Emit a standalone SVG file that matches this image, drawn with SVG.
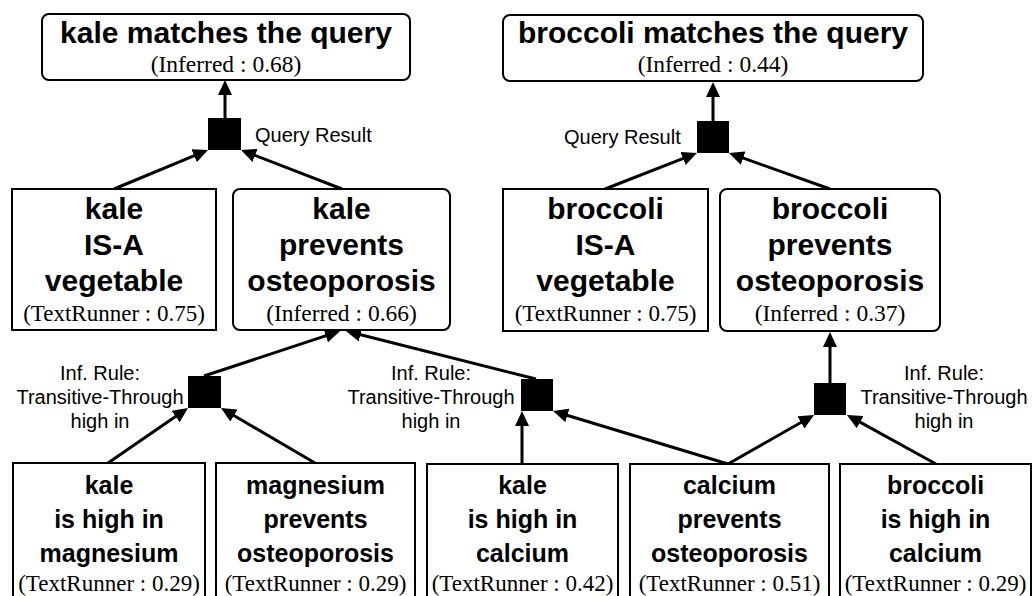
<svg xmlns="http://www.w3.org/2000/svg" width="1033" height="596" viewBox="0 0 1033 596">
<style>
.box{fill:#fff;stroke:#000;stroke-width:2}
.fac{fill:#000}
.t{font-family:"Liberation Sans",Arial,Helvetica,sans-serif;font-weight:bold;font-size:30px;text-anchor:middle;fill:#000}
.tb{font-family:"Liberation Sans",Arial,Helvetica,sans-serif;font-weight:bold;font-size:25px;text-anchor:middle;fill:#000}
.s{font-family:"Liberation Serif","Times New Roman",serif;font-size:23.5px;text-anchor:middle;fill:#000}
.r{font-family:"Liberation Serif","Times New Roman",serif;font-size:23px;text-anchor:middle;fill:#000}
.l{font-family:"Liberation Sans",Arial,Helvetica,sans-serif;font-size:20px;fill:#000}
.lc{font-family:"Liberation Sans",Arial,Helvetica,sans-serif;font-size:20px;fill:#000;text-anchor:middle}
.e{stroke:#000;stroke-width:3;fill:none;marker-end:url(#ah)}
</style>
<defs>
<marker id="ah" markerUnits="userSpaceOnUse" markerWidth="15" markerHeight="14" refX="10" refY="7" orient="auto">
<path d="M0,0 L15,7 L0,14 z" fill="#000"/>
</marker>
</defs>
<rect width="1033" height="596" fill="#fff"/>

<g id="connectors">
<line class="e" x1="225" y1="118" x2="225" y2="85"/>
<line class="e" x1="114" y1="189" x2="203.4" y2="151.9"/>
<line class="e" x1="342" y1="189" x2="245.7" y2="151.8"/>
<line class="e" x1="713" y1="121" x2="713" y2="87"/>
<line class="e" x1="605" y1="189" x2="692.3" y2="154.8"/>
<line class="e" x1="830" y1="189" x2="733.7" y2="154.7"/>
<line class="e" x1="204" y1="376" x2="335.3" y2="332.6"/>
<line class="e" x1="536" y1="379" x2="350.8" y2="332.2"/>
<line class="e" x1="108" y1="463" x2="183.9" y2="410.8"/>
<line class="e" x1="315" y1="463" x2="225.3" y2="410.5"/>
<line class="e" x1="522" y1="464" x2="522" y2="416"/>
<line class="e" x1="728" y1="464" x2="557.8" y2="412.5"/>
<line class="e" x1="728" y1="464" x2="809.7" y2="417.5"/>
<line class="e" x1="936" y1="464" x2="851.4" y2="417.4"/>
<line class="e" x1="830" y1="383" x2="830" y2="337"/>
</g>

<g id="kale_query">
<rect class="box" x="42" y="14" width="368" height="66" rx="7"/>
<text class="t" x="226" y="43">kale matches the query</text>
<text class="s" x="226" y="72">(Inferred : 0.68)</text>
</g>
<g id="broccoli_query">
<rect class="box" x="503" y="15" width="420" height="66" rx="7"/>
<text class="t" x="713" y="43">broccoli matches the query</text>
<text class="s" x="713" y="72">(Inferred : 0.44)</text>
</g>

<g id="qr_kale">
<rect class="fac" x="208" y="118" width="33" height="32"/>
<text class="l" x="255" y="142">Query Result</text>
</g>
<g id="qr_broccoli">
<rect class="fac" x="697" y="121" width="32" height="32"/>
<text class="l" x="564" y="144">Query Result</text>
</g>

<g id="kale_isa">
<rect class="box" x="12" y="189" width="204" height="141"/>
<text class="t" x="114" y="219">kale</text>
<text class="t" x="114" y="255">IS-A</text>
<text class="t" x="114" y="291">vegetable</text>
<text class="r" x="114" y="321">(TextRunner : 0.75)</text>
</g>
<g id="kale_prevents">
<rect class="box" x="233" y="189" width="217" height="141" rx="7"/>
<text class="t" x="341.5" y="219">kale</text>
<text class="t" x="341.5" y="255">prevents</text>
<text class="t" x="341.5" y="291">osteoporosis</text>
<text class="s" x="341.5" y="321">(Inferred : 0.66)</text>
</g>
<g id="broccoli_isa">
<rect class="box" x="503" y="189" width="205" height="142"/>
<text class="t" x="605.5" y="219">broccoli</text>
<text class="t" x="605.5" y="255">IS-A</text>
<text class="t" x="605.5" y="291">vegetable</text>
<text class="r" x="605.5" y="321">(TextRunner : 0.75)</text>
</g>
<g id="broccoli_prevents">
<rect class="box" x="720" y="189" width="220" height="142" rx="7"/>
<text class="t" x="830" y="219">broccoli</text>
<text class="t" x="830" y="255">prevents</text>
<text class="t" x="830" y="291">osteoporosis</text>
<text class="s" x="830" y="321">(Inferred : 0.37)</text>
</g>

<g id="rule_left">
<rect class="fac" x="188" y="376" width="33" height="32"/>
<text class="lc" x="100" y="380">Inf. Rule:</text>
<text class="lc" x="100" y="404">Transitive-Through</text>
<text class="lc" x="100" y="428">high in</text>
</g>
<g id="rule_mid">
<rect class="fac" x="521" y="379" width="32" height="32"/>
<text class="lc" x="431" y="380">Inf. Rule:</text>
<text class="lc" x="431" y="404">Transitive-Through</text>
<text class="lc" x="431" y="428">high in</text>
</g>
<g id="rule_right">
<rect class="fac" x="814" y="383" width="32" height="32"/>
<text class="lc" x="944" y="380">Inf. Rule:</text>
<text class="lc" x="944" y="404">Transitive-Through</text>
<text class="lc" x="944" y="428">high in</text>
</g>

<g id="kale_mg">
<rect class="box" x="13" y="463" width="192" height="140"/>
<text class="tb" x="109" y="494">kale</text>
<text class="tb" x="109" y="528">is high in</text>
<text class="tb" x="109" y="562">magnesium</text>
<text class="r" x="109" y="591">(TextRunner : 0.29)</text>
</g>
<g id="mg_prevents">
<rect class="box" x="216" y="463" width="199" height="140"/>
<text class="tb" x="315.5" y="494">magnesium</text>
<text class="tb" x="315.5" y="528">prevents</text>
<text class="tb" x="315.5" y="562">osteoporosis</text>
<text class="r" x="315.5" y="591">(TextRunner : 0.29)</text>
</g>
<g id="kale_ca">
<rect class="box" x="427" y="464" width="191" height="140"/>
<text class="tb" x="522.5" y="494">kale</text>
<text class="tb" x="522.5" y="528">is high in</text>
<text class="tb" x="522.5" y="562">calcium</text>
<text class="r" x="522.5" y="591">(TextRunner : 0.42)</text>
</g>
<g id="ca_prevents">
<rect class="box" x="630" y="464" width="199" height="140"/>
<text class="tb" x="729.5" y="494">calcium</text>
<text class="tb" x="729.5" y="528">prevents</text>
<text class="tb" x="729.5" y="562">osteoporosis</text>
<text class="r" x="729.5" y="591">(TextRunner : 0.51)</text>
</g>
<g id="broccoli_ca">
<rect class="box" x="840" y="464" width="191" height="140"/>
<text class="tb" x="935.5" y="494">broccoli</text>
<text class="tb" x="935.5" y="528">is high in</text>
<text class="tb" x="935.5" y="562">calcium</text>
<text class="r" x="935.5" y="591">(TextRunner : 0.29)</text>
</g>
</svg>
